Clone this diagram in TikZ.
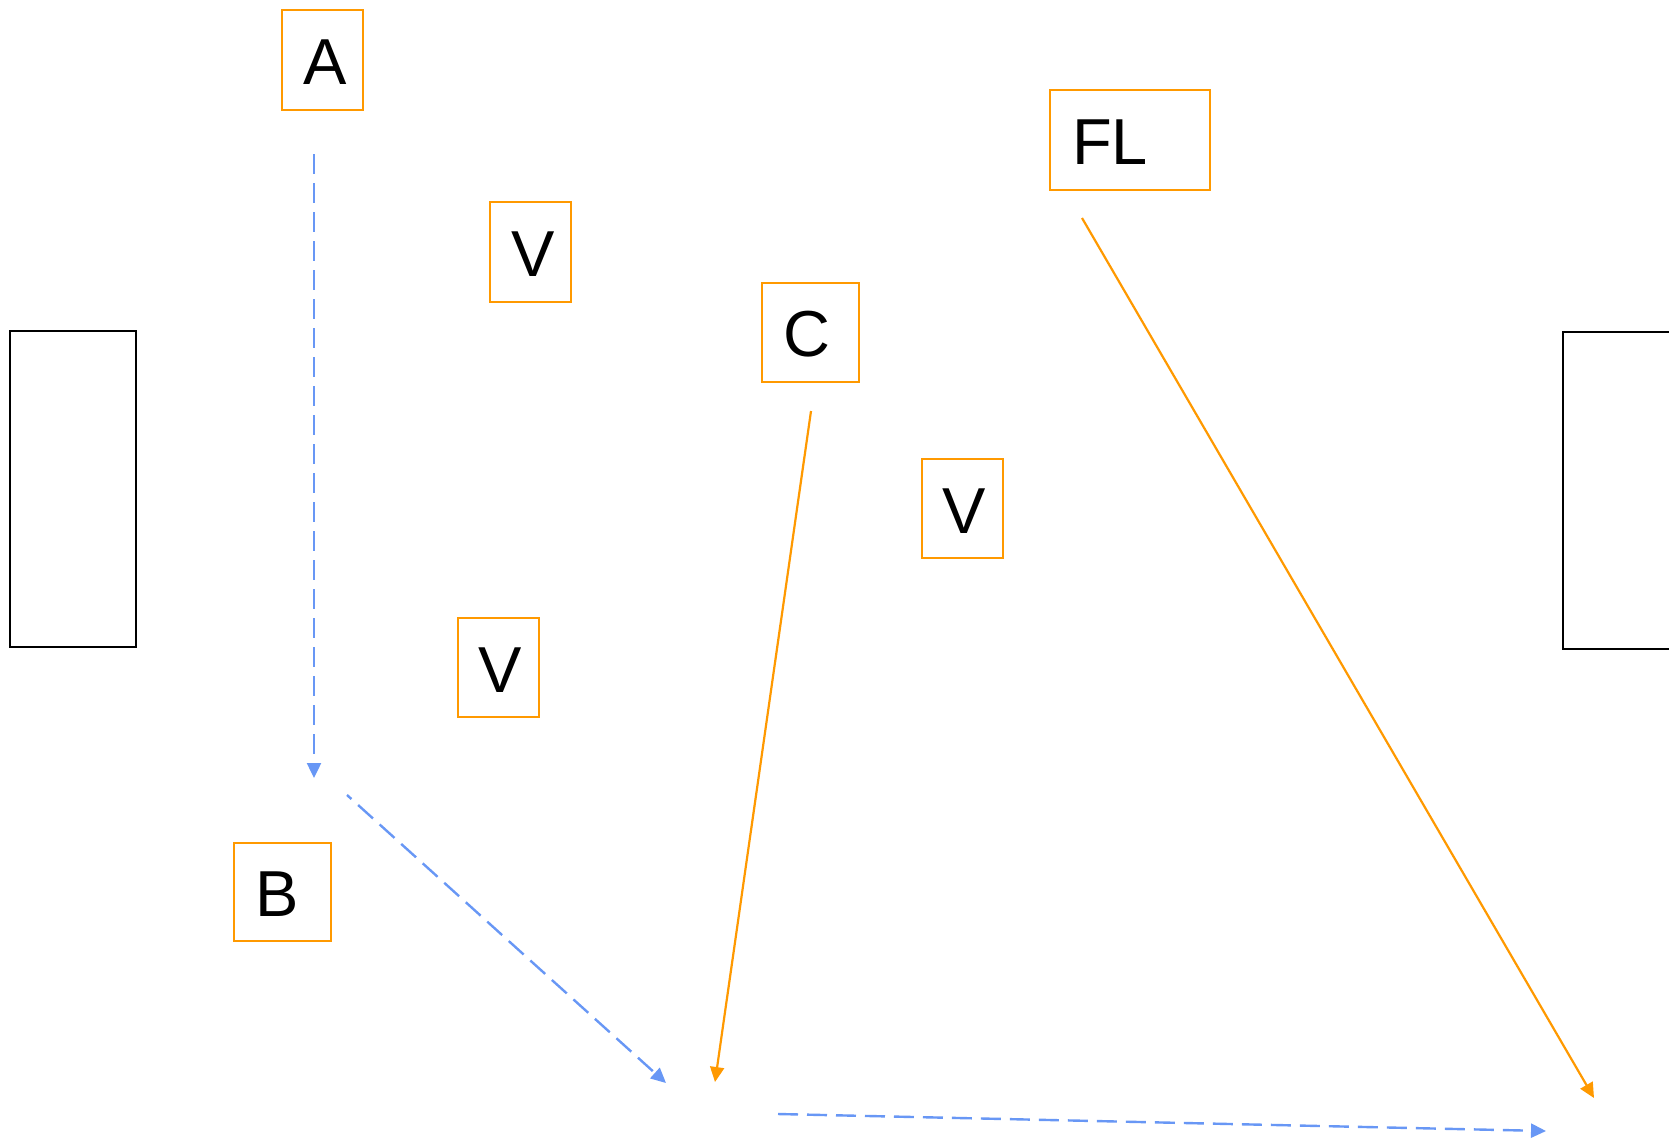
\documentclass[tikz,border=0pt]{standalone}
\usepackage{fontspec}
\setmainfont{Liberation Sans}
\usetikzlibrary{arrows.meta}
\definecolor{orng}{HTML}{FF9900}
\definecolor{blu}{HTML}{6897F5}
\tikzset{
  obox/.style={draw=orng, line width=2.2pt, inner sep=0pt, text height=49pt, font=\fontsize{65}{70}\selectfont},
  bbox/.style={draw=black, line width=2.2pt, inner sep=0pt},
  bluearrow/.style={draw=blu, line width=2.4pt, dash pattern=on 20pt off 9pt, -{Triangle[length=15pt,width=14pt]}},
  orangearrow/.style={draw=orng, line width=2.2pt, -{Triangle[length=15pt,width=14pt]}}
}
\begin{document}
\begin{tikzpicture}[x=1pt,y=-1pt]
\useasboundingbox (0,0) rectangle (1669,1138);
\clip (0,0) rectangle (1669,1138);
% boxes
\node[obox, minimum width=81pt, minimum height=100pt] (A) at (322.5,60) {\hspace*{6pt}A};
\node[obox, minimum width=81pt, minimum height=100pt] (V1) at (530.5,252) {\hspace*{6pt}V};
\node[obox, minimum width=97pt, minimum height=99pt] (C) at (810.5,332.5) {\hspace*{-8pt}C};
\node[obox, minimum width=81pt, minimum height=99pt] (V2) at (962.5,508.5) {\hspace*{4pt}V};
\node[obox, minimum width=81pt, minimum height=99pt] (V3) at (498.5,667.5) {\hspace*{4pt}V};
\node[obox, minimum width=97pt, minimum height=98pt] (B) at (282.5,892) {\hspace*{-10pt}B};
\node[obox, inner xsep=22pt, text width=116pt, align=left, minimum height=100pt] (FL) at (1130,140) {FL};
\node[bbox, minimum width=126pt, minimum height=316pt] (L) at (73,489) {};
\node[bbox, minimum width=126pt, minimum height=317pt] (R) at (1626,490.5) {};
% connector end points
\coordinate (a1) at (314,154);
\coordinate (a2) at (314,778);
\coordinate (b1) at (347,795);
\coordinate (b2) at (666,1083);
\coordinate (h1) at (778,1114);
\coordinate (h2) at (1546,1131);
\coordinate (c1) at (811,411);
\coordinate (c2) at (715,1082);
\coordinate (f1) at (1082,218);
\coordinate (f2) at (1594,1098);
% connectors
\draw[bluearrow] (a1) -- (a2);
\draw[bluearrow, dash phase=14pt] (b1) -- (b2);
\draw[bluearrow] (h1) -- (h2);
\draw[orangearrow] (c1) -- (c2);
\draw[orangearrow] (f1) -- (f2);
\end{tikzpicture}
\end{document}
